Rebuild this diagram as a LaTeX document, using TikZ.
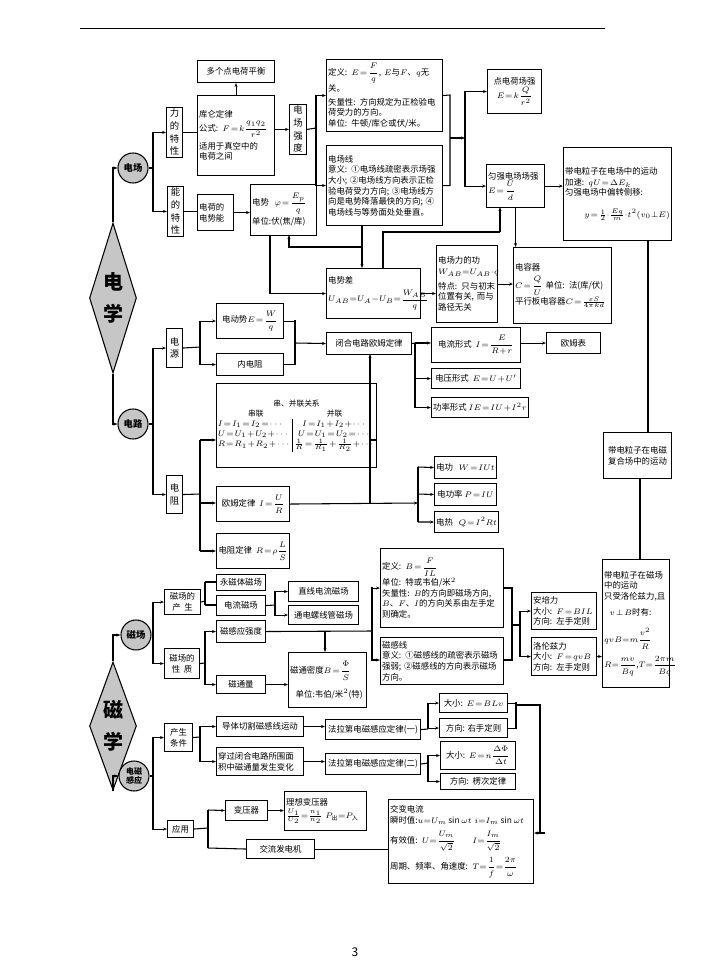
\documentclass[tikz,border=0pt]{standalone}
\usepackage{amsmath}
\usepackage{fontspec}
\setmainfont{Noto Sans CJK SC}
\XeTeXlinebreaklocale "zh"
\XeTeXlinebreakskip = 0pt
\relpenalty=10000
\binoppenalty=10000
\thickmuskip=1.5mu
\medmuskip=1mu
\usetikzlibrary{arrows.meta,shapes.geometric}

\tikzset{
  box/.style={draw,thick,anchor=north west,inner sep=1.2pt,font=\fontsize{6.3}{8}\selectfont},
  wh/.style 2 args={minimum width=#1*0.75pt,minimum height=#2*0.75pt},
  tw/.style={text width=#1*0.75pt-2.4pt,align=left},
  vbox/.style={box,text width=7pt,align=center,font=\fontsize{7}{9.5}\selectfont},
  circ/.style={draw,thick,circle,fill=gray!45,minimum size=30*0.75pt,inner sep=0pt,font=\fontsize{7}{8}\selectfont\bfseries},
  dia/.style={draw,thick,diamond,fill=gray!45,aspect=0.32,minimum width=47*0.75pt,inner sep=0pt,font=\fontsize{15}{22}\selectfont\bfseries,align=center},
  ar/.style={thick,-{Stealth[length=3pt]}},
  ln/.style={thick}
}

\begin{document}
\begin{tikzpicture}[x=0.75pt,y=-0.75pt]
  \useasboundingbox (0,0) rectangle (711,960);
  \draw[thin] (80,28) -- (605,28);
  \node[font=\fontsize{9}{10}\selectfont] (pg) at (355,952) {3};

  % electricity
  \node[dia,minimum height=150*0.75pt] (dx) at (113,298) {电\\[2pt]学};
  \node[circ] (dc) at (133,168) {电场};
  \node[circ] (dl) at (133,424) {电路};
  \node[vbox,wh={16}{49}] (lt) at (166,107) {力\\的\\特\\性};
  \node[vbox,wh={16}{49}] (nt) at (167,186) {能\\的\\特\\性};
  \node[box,wh={77}{22}] (dg) at (197,60) {多个点电荷平衡};
  \node[box,wh={77}{80},tw=77] (kl) at (197,95) {库仑定律\\[2pt]公式: $F=k\dfrac{q_1q_2}{r^2}$\\[2pt]适用于真空中的\\电荷之间};
  \node[box,wh={36}{36},tw=36] (sn) at (197,194) {电荷的\\电势能};
  \node[box,wh={66}{51},tw=66] (ds) at (250,184) {电势\ \ $\varphi=\dfrac{E_p}{q}$\\[2pt]单位:伏(焦/库)};
  \node[vbox,wh={17}{48}] (qd) at (289,104) {电\\场\\强\\度};
  \node[box,wh={116}{72},tw=116] (dy) at (326,59) {定义: $E=\dfrac{F}{q}$, $E$与$F$、$q$无关。\\[2pt]矢量性: 方向规定为正检验电荷受力的方向。\\单位: 牛顿/库仑或伏/米。};
  \node[box,wh={116}{80},tw=116] (dx2) at (326,145) {电场线\\意义: ①电场线疏密表示场强大小; ②电场线方向表示正检验电荷受力方向; ③电场线方向是电势降落最快的方向; ④电场线与等势面处处垂直。};
  \node[box,wh={54}{44},align=center] (dd) at (487,69) {点电荷场强\\$E=k\dfrac{Q}{r^2}$};
  \node[box,wh={58}{43},tw=58] (yq) at (486,164) {匀强电场场强\\$E=\dfrac{U}{d}$};
  \node[box,wh={108}{93},tw=108] (lz) at (563,147) {带电粒子在电场中的运动\\加速: $qU=\Delta E_k$\\匀强电场中偏转侧移:\\[8pt]\hfill$y=\frac12{\cdot}\frac{Eq}{m}{\cdot}t^2(v_0{\perp}E)$};
  \node[box,wh={94}{50},tw=94] (dsc) at (326,268) {电势差\\[3pt]$U_{AB}{=}U_A{-}U_B{=}\dfrac{W_{AB}}{q}$};
  \node[box,wh={61}{77},tw=61] (gw) at (436,245) {电场力的功\\$W_{AB}{=}U_{AB}{\cdot}q$\\[3pt]特点: 只与初末位置有关, 而与路径无关};
  \node[box,wh={98}{76},tw=98] (dr) at (513,247) {电容器\\[3pt]$C=\dfrac{Q}{U}$\ 单位: 法(库/伏)\\平行板电容器$C=\frac{\varepsilon S}{4\pi kd}$};
  \node[box,wh={68}{46},align=center] (fh) at (603,432) {带电粒子在电磁\\复合场中的运动};

  % circuit
  \node[vbox,wh={16}{39}] (dy2) at (166,328) {电\\源};
  \node[box,wh={67}{35}] (ed) at (216,303) {电动势$E=\dfrac{W}{q}$};
  \node[box,wh={67}{22}] (nr) at (216,353) {内电阻};
  \node[box,wh={85}{22}] (bh) at (326,332) {闭合电路欧姆定律};
  \node[box,wh={89}{35}] (dlx) at (431,327) {电流形式\ \ $I=\dfrac{E}{R+r}$};
  \node[box,wh={54}{21}] (om) at (546,332) {欧姆表};
  \node[box,wh={89}{20}] (dyx) at (431,368) {电压形式\ \ $E=U+U'$};
  \node[box,wh={90}{20}] (glx) at (431,397) {功率形式 $IE=IU+I^2r$};
  \node[box,wh={115}{84},inner sep=1pt,font=\fontsize{5.8}{7.5}\selectfont] (cb) at (216,383) {
    \begin{tabular}{@{}l@{\,}|@{\,}c@{}}
    \multicolumn{2}{c}{串、并联关系}\\
    \multicolumn{1}{c}{串联} & 并联\\
    $I=I_1=I_2=\cdots$ & $I=I_1+I_2+\cdots$\\
    $U=U_1+U_2+\cdots$ & $U=U_1=U_2=\cdots$\\
    $R=R_1+R_2+\cdots$ & $\frac1R=\frac1{R_1}+\frac1{R_2}+\cdots$
    \end{tabular}};
  \node[vbox,wh={16}{38}] (dz) at (166,475) {电\\阻};
  \node[box,wh={73}{35}] (od) at (216,486) {欧姆定律\ \ $I=\dfrac{U}{R}$};
  \node[box,wh={73}{35}] (zd) at (216,533) {电阻定律\ \ $R=\rho\dfrac{L}{S}$};
  \node[box,wh={62}{22}] (dg2) at (434,456) {电功\ \ \ $W=IUt$};
  \node[box,wh={62}{22}] (dgl) at (434,483) {电功率 $P=IU$};
  \node[box,wh={62}{21}] (dr2) at (434,511) {电热\ \ \ $Q=I^2Rt$};

  % magnetism
  \node[dia,minimum height=128*0.75pt,aspect=0.35] (cx) at (113,726) {磁\\[2pt]学};
  \node[circ] (cc) at (136,635) {磁场};
  \node[circ,font=\fontsize{6}{7}\selectfont\bfseries,align=center] (dc2) at (134,776) {电磁\\感应};
  \node[box,wh={36}{25},align=center] (cs) at (164,589) {磁场的\\产\ \ 生};
  \node[box,wh={49}{16}] (ycz) at (216,574) {永磁体磁场};
  \node[box,wh={49}{20}] (dlc) at (216,595) {电流磁场};
  \node[box,wh={70}{20}] (zx) at (288,581) {直线电流磁场};
  \node[box,wh={70}{19}] (lx) at (288,605) {通电螺线管磁场};
  \node[box,wh={49}{22}] (cq) at (216,620) {磁感应强度};
  \node[box,wh={35}{30},align=center] (cxz) at (164,648) {磁场的\\性\ \ 质};
  \node[box,wh={49}{18}] (ct) at (216,675) {磁通量};
  \node[box,wh={78}{55},tw=78] (cm) at (288,652) {磁通密度$B=\dfrac{\Phi}{S}$\\[6pt]\ \ 单位:韦伯/米$^2$(特)};
  \node[box,wh={123}{79},tw=123] (dyb) at (380,548) {定义: $B=\dfrac{F}{IL}$\\单位: 特或韦伯/米$^2$\\矢量性: $B$的方向即磁场方向, $B$、$F$、$I$的方向关系由左手定则确定。};
  \node[box,wh={123}{47},tw=123] (cgx) at (380,637) {磁感线\\意义: ①磁感线的疏密表示磁场强弱; ②磁感线的方向表示磁场方向。};
  \node[box,wh={65}{37},tw=65] (apl) at (531,592) {安培力\\大小: $F=BIL$\\方向: 左手定则};
  \node[box,wh={65}{38},tw=65] (llz) at (531,637) {洛伦兹力\\大小: $F=qvB$\\方向: 左手定则};
  \node[box,wh={67}{128},tw=67] (cl) at (602,559) {带电粒子在磁场中的运动\\只受洛伦兹力,且\\[4pt]\ \ $v\perp B$时有:\\[8pt]$qvB{=}m\dfrac{v^2}{R}$\\[4pt]$R{=}\dfrac{mv}{Bq}$,$T{=}\dfrac{2\pi m}{Bq}$};

  % induction
  \node[box,wh={28}{28},align=center] (cstj) at (164,723) {产生\\条件};
  \node[box,wh={87}{20}] (qg) at (216,716) {导体切割磁感线运动};
  \node[box,wh={87}{28},tw=87] (cg) at (216,747) {穿过闭合电路所围面积中磁通量发生变化};
  \node[box,wh={95}{20}] (fl1) at (325,719) {法拉第电磁感应定律(一)};
  \node[box,wh={95}{21}] (fl2) at (325,753) {法拉第电磁感应定律(二)};
  \node[box,wh={68}{19}] (dx1) at (439,693) {大小:\ \ $E=BLv$};
  \node[box,wh={68}{19}] (fx1) at (439,718) {方向: 右手定则};
  \node[box,wh={75}{28}] (dx3) at (440,741) {大小:\ \ $E=n\dfrac{\Delta\Phi}{\Delta t}$};
  \node[box,wh={75}{16}] (fx2) at (440,773) {方向:\ \ 楞次定律};
  \node[box,wh={26}{17}] (yy) at (167,820) {应用};
  \node[box,wh={42}{20}] (byq) at (225,800) {变压器};
  \node[box,wh={78}{39},tw=82] (lx2) at (284,791) {理想变压器\\[2pt]$\frac{U_1}{U_2}{=}\frac{n_1}{n_2}$\,\,$P_{\text{出}}{=}P_{\text{入}}$};
  \node[box,wh={68}{19}] (jl) at (246,839) {交流发电机};
  \node[box,wh={140}{84},tw=145] (jb) at (388,799) {交变电流\\瞬时值:$u{=}U_m\sin\omega t$\ $i{=}I_m\sin\omega t$\\[4pt]有效值: $U{=}\dfrac{U_m}{\sqrt2}$\qquad $I{=}\dfrac{I_m}{\sqrt2}$\\[4pt]周期、频率、角速度: $T{=}\dfrac1f{=}\dfrac{2\pi}{\omega}$};

  % connectors: electricity
  \draw[ar] (dx.north) |- (dc.west);
  \draw[ar] (dx.south) |- (dl.west);
  \draw[ln] (dc.east) -- (153,168);
  \draw[ar] (153,168) |- (lt.west);
  \draw[ar] (153,168) |- (nt.west);
  \draw[ln] (lt.east) -- (kl.west |- lt.east);
  \draw[ar] (kl.north) -- (dg.south);
  \draw[ar] (kl.east |- qd.west) -- (qd.west);
  \draw[ln] (nt.east) -- (sn.west |- nt.east);
  \draw[ar] (sn.east) -- (ds.west |- sn.east);
  \draw[ln] (qd.east) -- (316,128);
  \draw[ar] (316,128) |- (dy.west);
  \draw[ar] (316,128) |- (dx2.west);
  \draw[ln] (dy.east) -- (450,95) |- (dx2.east);
  \draw[ar] (450,138) -- (465,138);
  \draw[ar] (465,138) |- (dd.west);
  \draw[ar] (465,138) |- (yq.west);
  \draw[ar] (yq.east) -- (lz.west |- yq.east);
  \draw[ar] (yq.south) -- (dr.north -| yq.south);
  \draw[ar] (362,225) -- (362,268);
  \draw[ar] (362,247) -| (289,235);
  \draw[ln] (383,268) |- (500,232);
  \draw[ar] (500,232) -- (500,207);
  \draw[ar] (270,235) |- (dsc.west);
  \draw[ar] (dsc.east) -- (gw.west |- dsc.east);
  \draw[ar] (gw.east) -- (dr.west |- gw.east);
  \draw[ln] (648,240) -- (fh.north -| 648,0);

  % connectors: circuit
  \draw[ln] (dl.east) -- (153,424);
  \draw[ar] (153,424) |- (dy2.west);
  \draw[ar] (153,424) |- (dz.west);
  \draw[ln] (dy2.east) -- (200,347);
  \draw[ar] (200,347) |- (ed.west);
  \draw[ar] (200,347) |- (nr.west);
  \draw[ln] (ed.east) -| (295,320);
  \draw[ln] (nr.east) -| (295,320) -- (295,343);
  \draw[ar] (295,343) -- (bh.west);
  \draw[ln] (dz.east) -- (200,494);
  \draw[ln] (200,440) -- (200,551);
  \draw[ar] (200,440) -- (cb.west |- 200,440);
  \draw[ar] (200,503) -- (od.west |- 200,503);
  \draw[ar] (200,551) -- (zd.west |- 200,551);
  \draw[ln] (cb.east |- 0,440) -- (370,440);
  \draw[ar] (370,503) -- (370,354);
  \draw[ar] (od.east) -- (418,503);
  \draw[ln] (418,467) -- (418,522);
  \draw[ar] (418,467) -- (dg2.west);
  \draw[ar] (418,494) -- (dgl.west);
  \draw[ar] (418,522) -- (dr2.west);
  \draw[ln] (bh.east) -- (415,343);
  \draw[ar] (415,343) -- (dlx.west |- 415,343);
  \draw[ar] (415,343) |- (dyx.west);
  \draw[ar] (415,343) |- (glx.west);
  \draw[ar] (dlx.east |- om.west) -- (om.west);

  % connectors: magnetism
  \draw[ar] (cx.north) |- (cc.west);
  \draw[ar] (cx.south) |- (dc2.west);
  \draw[ln] (cc.east) -- (153,635);
  \draw[ar] (153,635) |- (cs.west);
  \draw[ar] (153,635) |- (cxz.west);
  \draw[ln] (cs.east) -- (205,601);
  \draw[ln] (205,582) -- (205,605);
  \draw[ln] (205,582) -- (ycz.west |- 205,582);
  \draw[ln] (205,605) -- (dlc.west |- 205,605);
  \draw[ln] (dlc.east) -- (275,605);
  \draw[ar] (275,605) |- (zx.west);
  \draw[ar] (275,605) |- (lx.west);
  \draw[ln] (cxz.east) -- (205,663);
  \draw[ar] (205,663) |- (cq.west);
  \draw[ar] (205,663) |- (ct.west);
  \draw[ln] (cq.east) -- (372,631);
  \draw[ar] (325,631) -- (325,652);
  \draw[ar] (ct.east) -- (cm.west |- ct.east);
  \draw[ar] (372,587) |- (dyb.west);
  \draw[ar] (372,587) -- (372,660) -- (cgx.west |- 0,660);
  \draw[ln] (dyb.east |- 0,588) -| (512,625);
  \draw[ln] (cgx.east |- 0,660) -| (512,625);
  \draw[ln] (512,625) -- (520,625);
  \draw[ar] (520,625) |- (apl.west);
  \draw[ar] (520,625) |- (llz.west);
  \draw[ar] (llz.east) -- (cl.west |- llz.east);
  \draw[ln] (cl.north -| 640,0) -- (640,478);

  % connectors: induction
  \draw[ln] (dc2.east) -- (153,776);
  \draw[ar] (153,776) |- (cstj.west);
  \draw[ar] (153,776) |- (yy.west);
  \draw[ln] (cstj.east) -- (200,737);
  \draw[ar] (200,737) |- (qg.west);
  \draw[ar] (200,737) |- (cg.west);
  \draw[ar] (qg.east) -- (fl1.west |- qg.east);
  \draw[ar] (cg.east) -- (fl2.west |- cg.east);
  \draw[ln] (fl1.east) -- (428,729);
  \draw[ar] (428,729) |- (dx1.west);
  \draw[ar] (428,729) |- (fx1.west);
  \draw[ln] (fl2.east) -- (428,763);
  \draw[ar] (428,763) |- (dx3.west);
  \draw[ar] (428,763) |- (fx2.west);
  \draw[ln] (dx1.east) -| (516,727);
  \draw[ln] (fx1.east) -| (516,702);
  \draw[ln] (516,705) -- (540,705) -- (540,833);
  \draw[ar] (545,833) -- (jb.east |- 0,833);
  \draw[ln] (yy.east) -- (208,828);
  \draw[ln] (208,810) -- (208,848);
  \draw[ar] (208,810) -- (byq.west);
  \draw[ln] (208,848) -- (jl.west);
  \draw[ar] (byq.east) -- (lx2.west |- byq.east);
  \draw[ln] (jl.east) -- (jb.west |- jl.east);
\end{tikzpicture}
\end{document}
